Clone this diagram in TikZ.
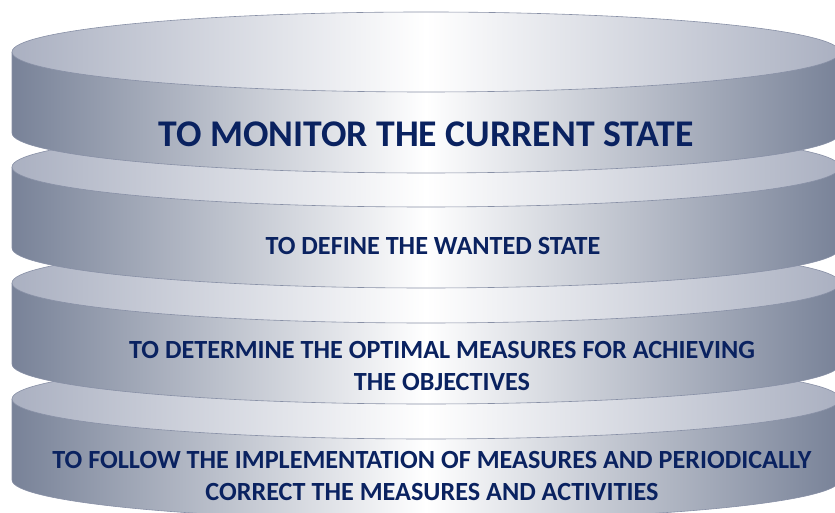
\documentclass[tikz,border=0pt]{standalone}
\usepackage{fontspec}
\setmainfont{Carlito}
\usepackage{tikz}
\definecolor{sidegray}{RGB}{120,130,152}
\definecolor{topgray}{RGB}{170,176,193}
\definecolor{rimline}{RGB}{136,144,166}
\definecolor{navytext}{RGB}{10,34,96}
\tikzset{
	layerside/.style={left color=sidegray,right color=sidegray,middle color=white},
	layertop/.style={left color=topgray,right color=topgray,middle color=white,draw=rimline,line width=0.6pt},
	layertext/.style={text=navytext,font=\bfseries\fontsize{26.2}{32}\selectfont,align=center}
}

\begin{document}
\begin{tikzpicture}[x=1pt,y=1pt]
	\useasboundingbox (0,0) rectangle (835,513);
	\clip (0,0) rectangle (835,513);
	\foreach \y in {114,230,346,461}{
		\shade[layerside] (12,\y) -- (12,\y-81) arc[start angle=180,end angle=360,x radius=414,y radius=40] -- (840,\y) -- cycle;
		\draw[rimline,line width=0.6pt] (12,\y) -- (12,\y-81) arc[start angle=180,end angle=360,x radius=414,y radius=40] -- (840,\y);
		\shade[layertop] (426,\y) ellipse[x radius=414,y radius=40];
	}
	\node[layertext,font=\bfseries\fontsize{37.7}{42}\selectfont] (monitor) at (426,378.5) {TO MONITOR THE CURRENT STATE};
	\node[layertext] (define) at (433,266.5) {TO DEFINE THE WANTED STATE};
	\node[layertext] (determine) at (442,147) {TO DETERMINE THE OPTIMAL MEASURES FOR ACHIEVING\\THE OBJECTIVES};
	\node[layertext] (follow) at (432,36.5) {TO FOLLOW THE IMPLEMENTATION OF MEASURES AND PERIODICALLY\\CORRECT THE MEASURES AND ACTIVITIES};
\end{tikzpicture}
\end{document}
